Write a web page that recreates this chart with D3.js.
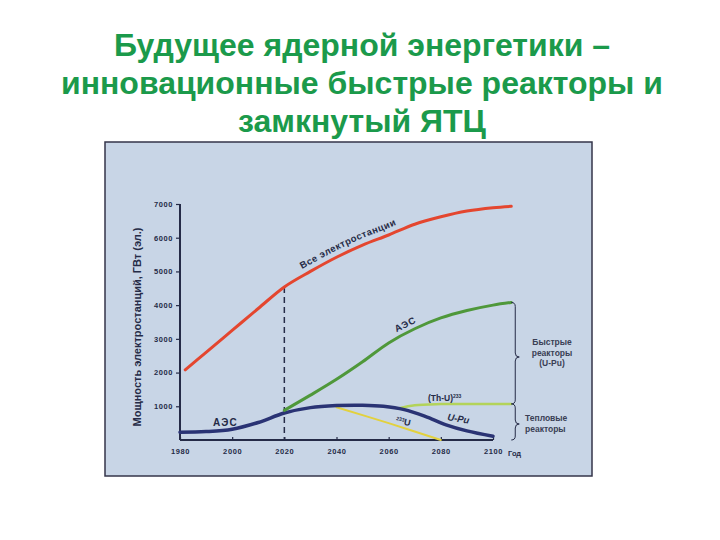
<!DOCTYPE html>
<html>
<head>
<meta charset="utf-8">
<script src="https://cdn.jsdelivr.net/npm/d3@7"></script>
<style>
  body { margin: 0; background: #fff; }
  text { font-family: "Liberation Sans", Arial, sans-serif; }
</style>
</head>
<body>
<svg width="720" height="540"></svg>
<script>
const svg = d3.select('svg');

// title lines
const titleLines = [
  'Будущее ядерной энергетики –',
  'инновационные быстрые реакторы и',
  'замкнутый ЯТЦ',
];

// data (GW, by year)
const allYears = [1982, 1990, 2000, 2010, 2020, 2030, 2040, 2050, 2060, 2070, 2080, 2090, 2100, 2107];
const allValues = [2080, 2600, 3250, 3900, 4540, 5000, 5420, 5780, 6080, 6400, 6620, 6790, 6890, 6930];

const fastYears = [2020, 2030, 2040, 2050, 2060, 2070, 2080, 2090, 2100, 2107];
const fastValues = [880, 1330, 1800, 2320, 2880, 3300, 3620, 3840, 4000, 4080];

const thermalYears = [1980, 1990, 2000, 2010, 2020, 2030, 2040, 2050, 2058, 2066, 2074, 2082, 2090, 2100];
const thermalValues = [230, 250, 320, 520, 800, 960, 1020, 1030, 1000, 900, 700, 450, 270, 110];

const u233Years = [2040, 2060, 2080];
const u233Values = [970, 500, 0];

const thuYears = [2064, 2070, 2080, 2090, 2100, 2107];
const thuValues = [940, 1030, 1065, 1070, 1070, 1070];

const xTicks = [1980, 2000, 2020, 2040, 2060, 2080, 2100];
const yTicks = [1000, 2000, 3000, 4000, 5000, 6000, 7000];

const ink = '#252b47';

// title
svg.append('g')
  .selectAll('text')
  .data(titleLines)
  .enter().append('text')
  .attr('x', 362)
  .attr('y', (d, i) => 56 + i * 38)
  .attr('text-anchor', 'middle')
  .attr('font-size', 32)
  .attr('font-weight', 'bold')
  .attr('fill', '#1b9a4b')
  .text(d => d);

// picture frame
svg.append('rect')
  .attr('x', 105)
  .attr('y', 142)
  .attr('width', 487)
  .attr('height', 334)
  .attr('fill', '#c8d5e6')
  .attr('stroke', '#34354a')
  .attr('stroke-width', 1.5);

const x = d3.scaleLinear().domain([1980, 2100]).range([180, 493]);
const y = d3.scaleLinear().domain([0, 7000]).range([440, 204]);

// axes
const yAxis = svg.append('g')
  .attr('transform', 'translate(180,0)')
  .call(d3.axisLeft(y).tickValues(yTicks).tickSize(4).tickPadding(3).tickFormat(d3.format('d')));
const xAxis = svg.append('g')
  .attr('transform', 'translate(0,440)')
  .call(d3.axisBottom(x).tickValues(xTicks).tickSize(-3).tickPadding(9).tickFormat(d3.format('d')));

[xAxis, yAxis].forEach(a => {
  a.select('.domain').attr('stroke', ink).attr('stroke-width', 2);
  a.selectAll('.tick line').attr('stroke', ink).attr('stroke-width', 1.2);
  a.selectAll('.tick text')
    .attr('fill', ink)
    .attr('font-size', 7.5)
    .attr('font-weight', 'bold')
    .attr('letter-spacing', 0.6)
    .style('font-family', '"Liberation Sans", Arial, sans-serif');
});
yAxis.select('.domain').attr('d', `M0,${y(7000)}V${y(0)}`);
xAxis.select('.domain').attr('d', `M${x(1980)},0H${x(2100)}`);

svg.append('text')
  .attr('x', x(2100) + 15)
  .attr('y', 456)
  .attr('font-size', 7.5)
  .attr('font-weight', 'bold')
  .attr('fill', ink)
  .text('Год');

svg.append('text')
  .attr('transform', 'translate(141,327) rotate(-90)')
  .attr('text-anchor', 'middle')
  .attr('font-size', 11)
  .attr('font-weight', 'bold')
  .attr('fill', ink)
  .text('Мощность электростанций, ГВт (эл.)');

// dashed line at 2020
svg.append('line')
  .attr('x1', x(2020))
  .attr('x2', x(2020))
  .attr('y1', y(4540))
  .attr('y2', y(0))
  .attr('stroke', ink)
  .attr('stroke-width', 1.5)
  .attr('stroke-dasharray', '6,4');

const line = d3.line()
  .x(d => x(d[0]))
  .y(d => y(d[1]))
  .curve(d3.curveCatmullRom.alpha(0.5));

const series = [
  { years: u233Years, values: u233Values, color: '#e2d13e', width: 2 },
  { years: thuYears, values: thuValues, color: '#b3d35a', width: 2.5 },
  { years: thermalYears, values: thermalValues, color: '#2a3374', width: 3.5 },
  { years: fastYears, values: fastValues, color: '#4f983a', width: 3 },
  { years: allYears, values: allValues, color: '#e4462f', width: 3 },
];

svg.append('g')
  .selectAll('path')
  .data(series)
  .enter().append('path')
  .attr('d', d => line(d3.zip(d.years, d.values)))
  .attr('fill', 'none')
  .attr('stroke', d => d.color)
  .attr('stroke-width', d => d.width)
  .attr('stroke-linecap', 'round');

// label along the red curve
const redGuide = svg.append('path')
  .attr('id', 'redGuide')
  .attr('fill', 'none')
  .attr('d', d3.line()
    .x(d => x(d[0]))
    .y(d => y(d[1]) - 7)
    .curve(d3.curveCatmullRom.alpha(0.5))(d3.zip(allYears, allValues)));
let off = 0;
const guideNode = redGuide.node();
while (guideNode.getPointAtLength(off).x < 302) off += 1;

svg.append('text')
  .attr('font-size', 9.5)
  .attr('font-weight', 'bold')
  .attr('fill', ink)
  .attr('letter-spacing', 0.5)
  .append('textPath')
  .attr('href', '#redGuide')
  .attr('startOffset', off)
  .text('Все электростанции');

// other labels
svg.append('text')
  .attr('transform', `translate(${x(2063)},${y(3020) - 6}) rotate(-26)`)
  .attr('font-size', 9.5)
  .attr('font-weight', 'bold')
  .attr('fill', ink)
  .attr('letter-spacing', 0.8)
  .text('АЭС');

svg.append('text')
  .attr('x', 213)
  .attr('y', 426)
  .attr('font-size', 10)
  .attr('font-weight', 'bold')
  .attr('fill', ink)
  .attr('letter-spacing', 1.2)
  .text('АЭС');

const thu = svg.append('text')
  .attr('x', 428)
  .attr('y', 401)
  .attr('font-size', 8.5)
  .attr('font-weight', 'bold')
  .attr('fill', ink)
  .text('(Th-U)');
thu.append('tspan')
  .attr('dy', -3)
  .attr('font-size', 5)
  .text('233');

const u = svg.append('text')
  .attr('transform', 'translate(396,420) rotate(12)')
  .attr('font-size', 5)
  .attr('font-weight', 'bold')
  .attr('fill', ink)
  .text('233');
u.append('tspan')
  .attr('dy', 3)
  .attr('font-size', 9)
  .text('U');

svg.append('text')
  .attr('transform', 'translate(447,420) rotate(10)')
  .attr('font-size', 9.5)
  .attr('font-weight', 'bold')
  .attr('font-style', 'italic')
  .attr('fill', ink)
  .text('U-Pu');

// braces
function brace(x0, yTop, yBot, yTip) {
  const w = 4;
  return `M${x0},${yTop} Q${x0 + w},${yTop} ${x0 + w},${yTop + 4}` +
    ` L${x0 + w},${yTip - 4} Q${x0 + w},${yTip} ${x0 + 2 * w},${yTip}` +
    ` Q${x0 + w},${yTip} ${x0 + w},${yTip + 4}` +
    ` L${x0 + w},${yBot - 4} Q${x0 + w},${yBot} ${x0},${yBot}`;
}
svg.append('path')
  .attr('d', brace(x(2107), y(4080), y(1070), 357))
  .attr('fill', 'none')
  .attr('stroke', ink)
  .attr('stroke-width', 1);
svg.append('path')
  .attr('d', brace(x(2107), y(1070), y(0), 424))
  .attr('fill', 'none')
  .attr('stroke', ink)
  .attr('stroke-width', 1);

const fastLabel = ['Быстрые', 'реакторы', '(U-Pu)'];
svg.append('g')
  .selectAll('text')
  .data(fastLabel)
  .enter().append('text')
  .attr('x', 552)
  .attr('y', (d, i) => 345 + i * 10.5)
  .attr('text-anchor', 'middle')
  .attr('font-size', 8.5)
  .attr('font-weight', 'bold')
  .attr('fill', '#3a3f55')
  .text(d => d);

const thermalLabel = ['Тепловые', 'реакторы'];
svg.append('g')
  .selectAll('text')
  .data(thermalLabel)
  .enter().append('text')
  .attr('x', 525)
  .attr('y', (d, i) => 421 + i * 10.5)
  .attr('font-size', 8.5)
  .attr('font-weight', 'bold')
  .attr('fill', '#3a3f55')
  .text(d => d);
</script>
</body>
</html>
